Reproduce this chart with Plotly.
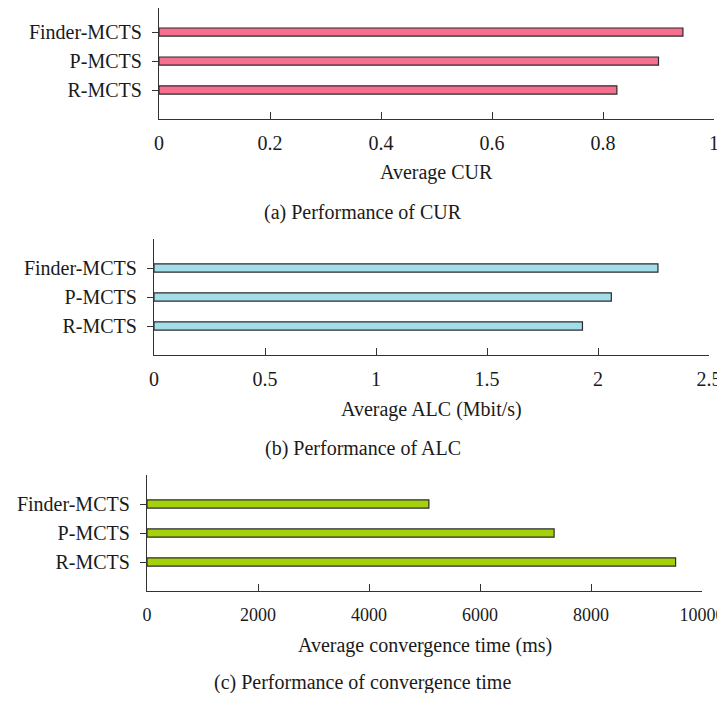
import plotly.graph_objects as go

methods = ["R-MCTS", "P-MCTS", "Finder-MCTS"]
cur_values = [0.825, 0.900, 0.944]
alc_values = [1.93, 2.06, 2.27]
conv_values = [9524, 7335, 5079]

cur_ticks = [0, 0.2, 0.4, 0.6, 0.8, 1]
alc_ticks = [0, 0.5, 1, 1.5, 2, 2.5]
conv_ticks = [0, 2000, 4000, 6000, 8000, 10000]

axis_titles = ["Average CUR", "Average ALC (Mbit/s)", "Average convergence time (ms)"]
captions = ["(a) Performance of CUR", "(b) Performance of ALC", "(c) Performance of convergence time"]
colors = ["#F76F8F", "#A2DDE9", "#A5D10B"]

# page has an 8px body margin; figure fills the rest of the 725x701 window
OFF = 8
W, H = 725 - OFF, 701 - 2 * OFF
FONT = "Liberation Serif, Times New Roman, Times, serif"
FS = 20
LINE = "#333333"
TXT = "#1a1a1a"

# panel geometry in page pixels: (x0, x1, ytop, ybottom, title_y, caption_y, y_top_value, xtick_size)
panels = [
    (159, 714, 8, 119, 172, 213, 2.83, 20),
    (154, 709, 239, 355, 409, 448, 3, 20),
    (147, 702, 475, 591, 645, 682, 3, 18),
]
series = [cur_values, alc_values, conv_values]
tick_sets = [cur_ticks, alc_ticks, conv_ticks]


def fx(p):
    return (p - OFF) / W


def fy(p):
    return min(1.0, 1 - (p - OFF) / H)


fig = go.Figure()
layout = {}
annotations = []
for i, (vals, ticks, col, (x0, x1, yt, yb, ty, cy, ytop, xfs)) in enumerate(zip(series, tick_sets, colors, panels)):
    n = "" if i == 0 else str(i + 1)
    fig.add_trace(go.Bar(
        x=vals, y=[0, 1, 2], orientation="h", width=0.28,
        marker=dict(color=col, line=dict(color="#2a2a2a", width=1.2)),
        xaxis="x" + n, yaxis="y" + n, showlegend=False,
    ))
    layout["xaxis" + n] = dict(
        domain=[fx(x0), fx(x1)], range=[ticks[0], ticks[-1]], anchor="y" + n,
        tickvals=ticks, ticktext=[f"{t:g}" for t in ticks],
        showline=True, linecolor=LINE, linewidth=1.3, ticks="inside", ticklen=7,
        tickcolor=LINE, tickwidth=1.3, showgrid=False, zeroline=False,
        tickfont=dict(family=FONT, size=xfs, color=TXT), fixedrange=True,
        ticklabelstandoff=6 + (FS - xfs) // 2, automargin=False, ticklabeloverflow="allow",
    )
    layout["yaxis" + n] = dict(
        domain=[fy(yb), fy(yt)], range=[-1, ytop], anchor="x" + n,
        tickvals=[0, 1, 2], ticktext=methods,
        showline=True, linecolor=LINE, linewidth=1.3, ticks="outside", ticklen=6,
        tickcolor=LINE, tickwidth=1.3, showgrid=False, zeroline=False,
        tickfont=dict(family=FONT, size=FS, color=TXT), fixedrange=True,
        ticklabelstandoff=6, automargin=False, ticklabeloverflow="allow",
    )
    annotations.append(dict(
        text=axis_titles[i], x=fx((x0 + x1) / 2), y=fy(ty), xref="paper", yref="paper",
        xanchor="center", yanchor="middle", showarrow=False,
        font=dict(family=FONT, size=FS, color=TXT),
    ))
    annotations.append(dict(
        text=captions[i], x=fx(362.5), y=fy(cy), xref="paper", yref="paper",
        xanchor="center", yanchor="middle", showarrow=False,
        font=dict(family=FONT, size=FS, color=TXT),
    ))

fig.update_layout(
    template="none",
    width=W, height=H, margin=dict(l=0, r=0, t=0, b=0, autoexpand=False),
    paper_bgcolor="white", plot_bgcolor="white",
    annotations=annotations, **layout,
)
fig.write_html("out.html")
